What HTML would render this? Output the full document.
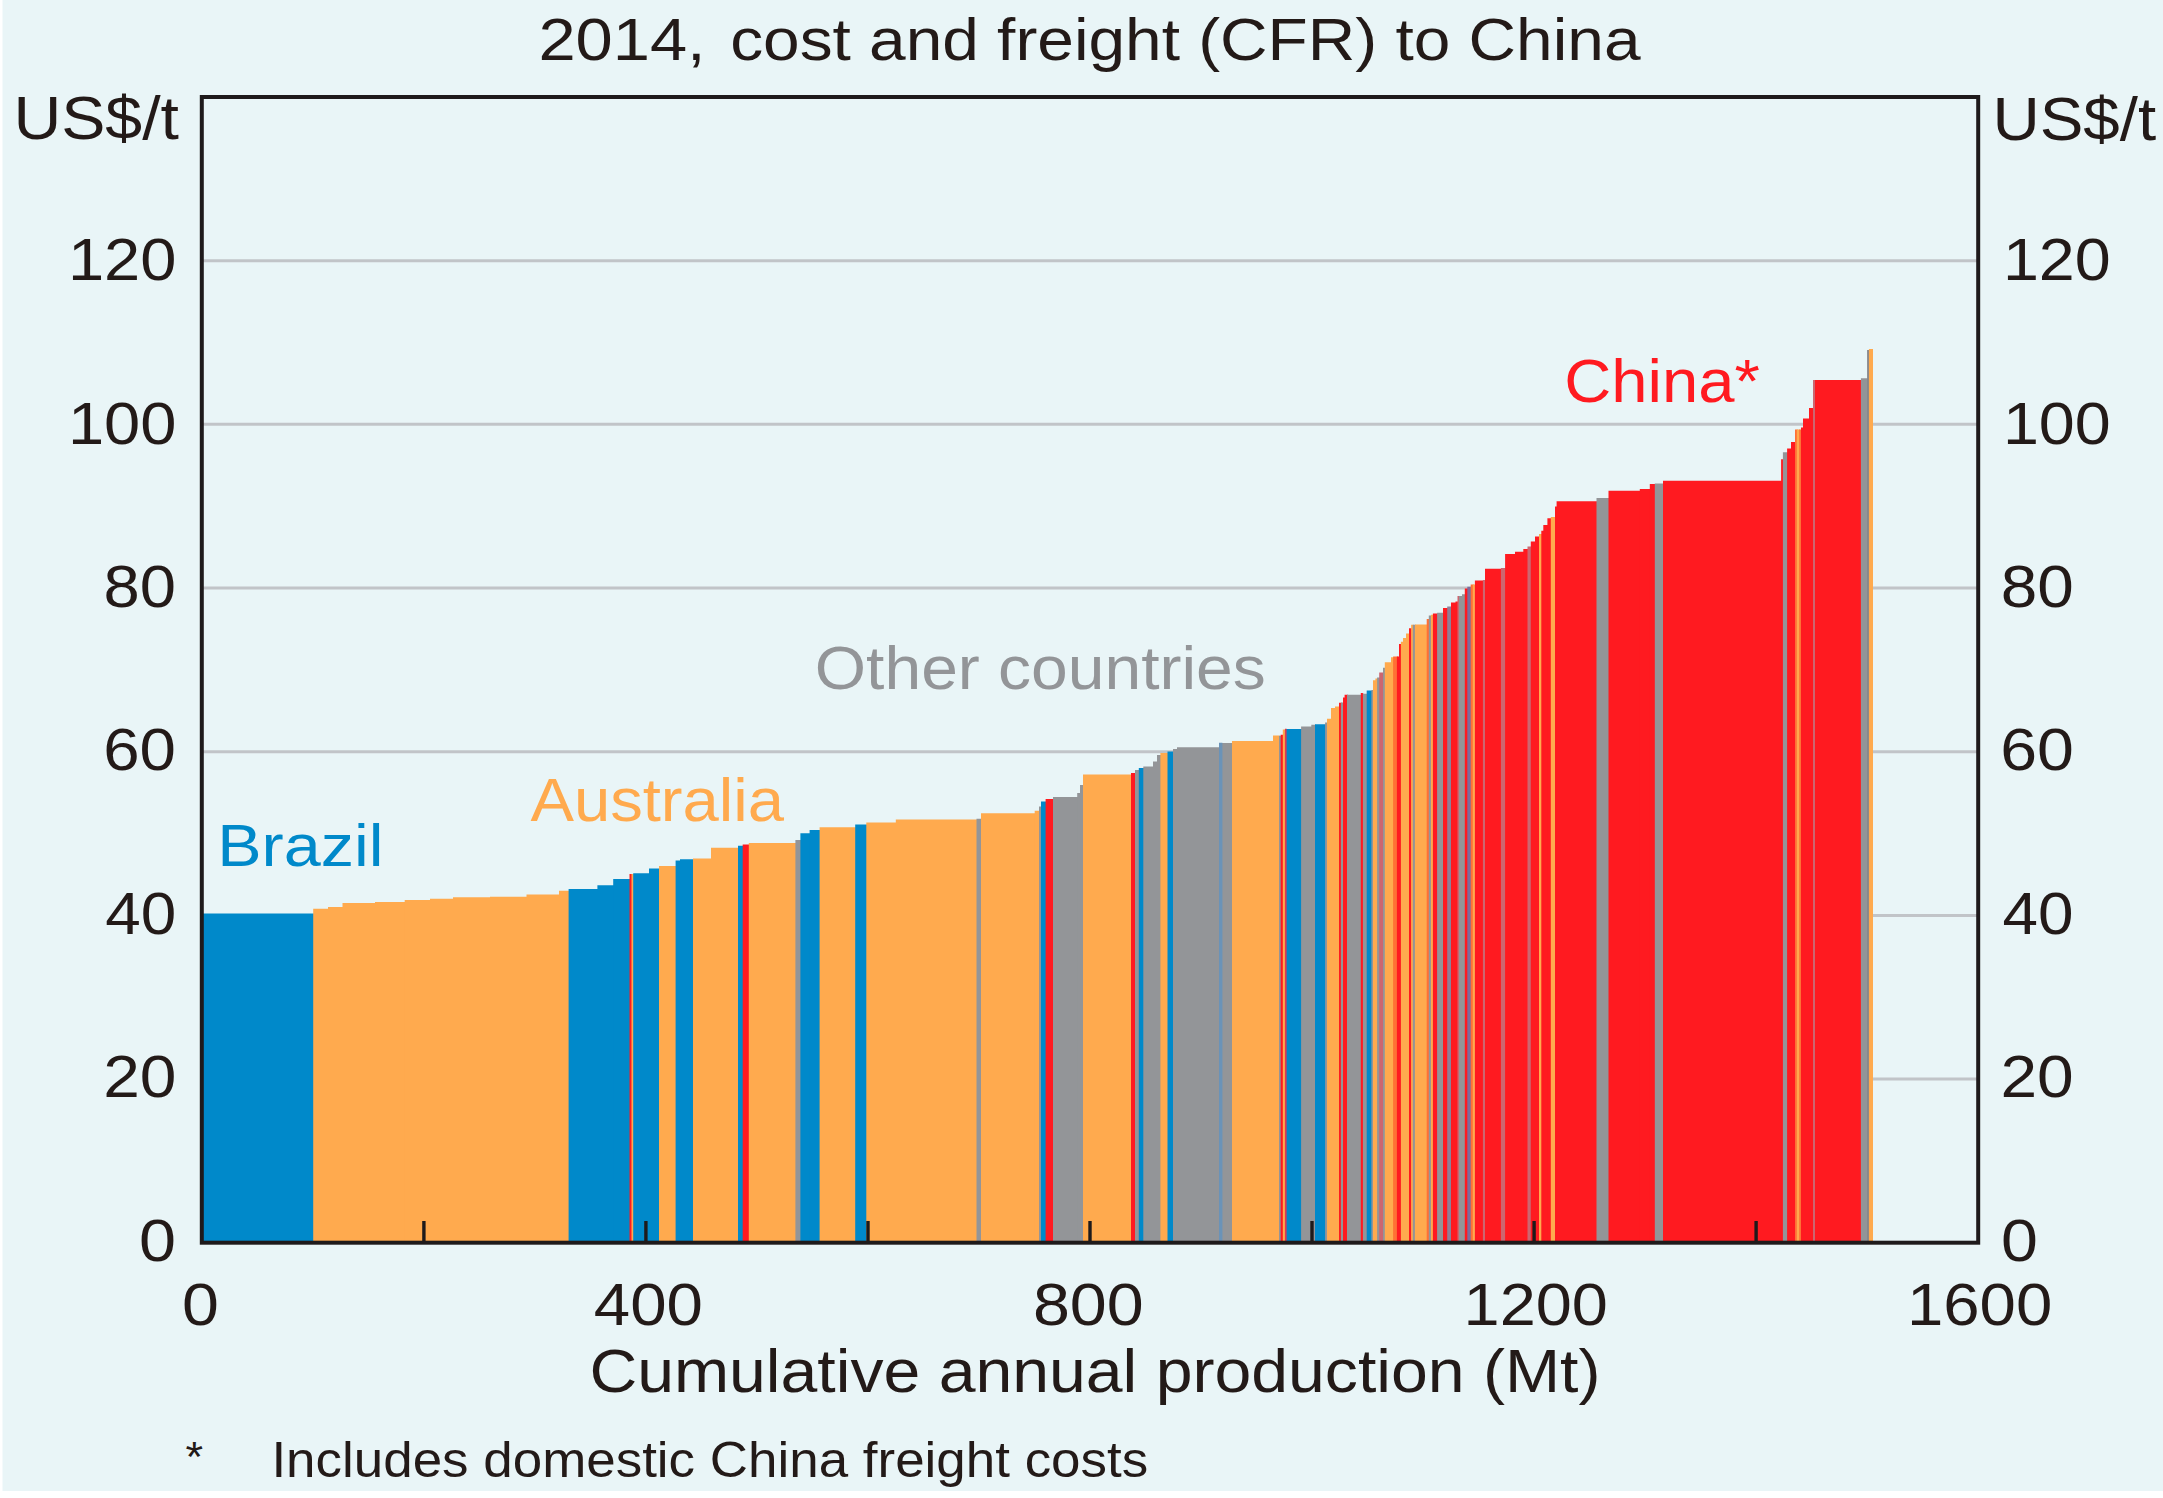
<!DOCTYPE html>
<html lang="en"><head><meta charset="utf-8"><title>Iron ore cost curve</title>
<style>
html,body{margin:0;padding:0;background:#fff}
body{width:2163px;height:1498px;overflow:hidden}
svg{display:block}
text{font-family:"Liberation Sans",Arial,Helvetica,sans-serif}
</style></head><body>
<svg width="2163" height="1498" viewBox="0 0 2163 1498">
<rect x="0" y="0" width="2163" height="1498" fill="#fff"/>
<rect x="2.5" y="0" width="2161" height="1491" fill="#E9F5F7"/>
<g stroke="#C1C4C8" stroke-width="3">
<line x1="201.8" x2="1978.2" y1="1079.0" y2="1079.0"/>
<line x1="201.8" x2="1978.2" y1="915.4" y2="915.4"/>
<line x1="201.8" x2="1978.2" y1="751.7" y2="751.7"/>
<line x1="201.8" x2="1978.2" y1="588.0" y2="588.0"/>
<line x1="201.8" x2="1978.2" y1="424.3" y2="424.3"/>
<line x1="201.8" x2="1978.2" y1="260.7" y2="260.7"/>
</g>
<g>
<path fill="#0089CA" d="M202 913.5H313.2V913.5h1V1242.6H202z"/>
<path fill="#FFAA4E" d="M313.2 908.7H328V908.7h1V1242.6H313.2z"/>
<path fill="#FFAA4E" d="M328 907H342.5V907h1V1242.6H328z"/>
<path fill="#FFAA4E" d="M342.5 903H375V903h1V1242.6H342.5z"/>
<path fill="#FFAA4E" d="M375 902H404.7V902h1V1242.6H375z"/>
<path fill="#FFAA4E" d="M404.7 900H430V900h1V1242.6H404.7z"/>
<path fill="#FFAA4E" d="M430 898.7H453V898.7h1V1242.6H430z"/>
<path fill="#FFAA4E" d="M453 897.3H490V897.3h1V1242.6H453z"/>
<path fill="#FFAA4E" d="M490 896.7H526.5V896.7h1V1242.6H490z"/>
<path fill="#FFAA4E" d="M526.5 894.5H559V894.5h1V1242.6H526.5z"/>
<path fill="#FFAA4E" d="M559 890.7H568.6V890.7h1V1242.6H559z"/>
<path fill="#0089CA" d="M568.6 889H597.4V889h1V1242.6H568.6z"/>
<path fill="#0089CA" d="M597.4 885.2H613.2V885.2h1V1242.6H597.4z"/>
<path fill="#0089CA" d="M613.2 879H629.5V879h1V1242.6H613.2z"/>
<path fill="#FF1A20" d="M629.5 874H631.5V874h1V1242.6H629.5z"/>
<path fill="#FFAA4E" d="M631.5 874H633.2V874h1V1242.6H631.5z"/>
<path fill="#0089CA" d="M633.2 873.2H649V873.2h1V1242.6H633.2z"/>
<path fill="#0089CA" d="M649 868.6H659V868.6h1V1242.6H649z"/>
<path fill="#FFAA4E" d="M659 866H675.6V866h1V1242.6H659z"/>
<path fill="#0089CA" d="M675.6 860.5H680V860.5h1V1242.6H675.6z"/>
<path fill="#0089CA" d="M680 859.3H693V859.3h1V1242.6H680z"/>
<path fill="#FFAA4E" d="M693 858.6H711V858.6h1V1242.6H693z"/>
<path fill="#FFAA4E" d="M711 847.8H738V847.8h1V1242.6H711z"/>
<path fill="#0089CA" d="M738 845.8H742.7V845.8h1V1242.6H738z"/>
<path fill="#FF1A20" d="M742.7 844.6H748.8V844.6h1V1242.6H742.7z"/>
<path fill="#FFAA4E" d="M748.8 843H795.4V843h1V1242.6H748.8z"/>
<path fill="#939598" d="M795.4 840H800.4V840h1V1242.6H795.4z"/>
<path fill="#0089CA" d="M800.4 833.3H809.6V833.3h1V1242.6H800.4z"/>
<path fill="#0089CA" d="M809.6 830H819.6V830h1V1242.6H809.6z"/>
<path fill="#FFAA4E" d="M819.6 827.2H855.2V827.2h1V1242.6H819.6z"/>
<path fill="#0089CA" d="M855.2 824.5H866.3V824.5h1V1242.6H855.2z"/>
<path fill="#FFAA4E" d="M866.3 822.4H895.8V822.4h1V1242.6H866.3z"/>
<path fill="#FFAA4E" d="M895.8 819.5H976.5V819.5h1V1242.6H895.8z"/>
<path fill="#939598" d="M976.5 818.7H981V818.7h1V1242.6H976.5z"/>
<path fill="#FFAA4E" d="M981 813.2H1034.7V813.2h1V1242.6H981z"/>
<path fill="#FFAA4E" d="M1034.7 810.7H1039V810.7h1V1242.6H1034.7z"/>
<path fill="#939598" d="M1039 806.5H1041V806.5h1V1242.6H1039z"/>
<path fill="#0089CA" d="M1041 801.6H1045.6V801.6h1V1242.6H1041z"/>
<path fill="#FF1A20" d="M1045.6 799H1053V799h1V1242.6H1045.6z"/>
<path fill="#939598" d="M1053 797H1077.2V797h1V1242.6H1053z"/>
<path fill="#939598" d="M1077.2 793H1080V793h1V1242.6H1077.2z"/>
<path fill="#939598" d="M1080 785H1083V785h1V1242.6H1080z"/>
<path fill="#FFAA4E" d="M1083 774.6H1131V774.6h1V1242.6H1083z"/>
<path fill="#FF1A20" d="M1131 773H1135V773h1V1242.6H1131z"/>
<path fill="#939598" d="M1135 770H1138.8V770h1V1242.6H1135z"/>
<path fill="#0089CA" d="M1138.8 768H1143.3V768h1V1242.6H1138.8z"/>
<path fill="#939598" d="M1143.3 766.6H1153V766.6h1V1242.6H1143.3z"/>
<path fill="#939598" d="M1153 761.6H1157V761.6h1V1242.6H1153z"/>
<path fill="#939598" d="M1157 755H1160.4V755h1V1242.6H1157z"/>
<path fill="#FFAA4E" d="M1160.4 752.9H1167.5V752.9h1V1242.6H1160.4z"/>
<path fill="#0089CA" d="M1167.5 751.5H1173V751.5h1V1242.6H1167.5z"/>
<path fill="#939598" d="M1173 749H1177V749h1V1242.6H1173z"/>
<path fill="#939598" d="M1177 747.3H1219V747.3h1V1242.6H1177z"/>
<path fill="#6A93B8" d="M1219 742.8H1222.4V743h1V1242.6H1219z"/>
<path fill="#939598" d="M1222.4 743H1232V743h1V1242.6H1222.4z"/>
<path fill="#FFAA4E" d="M1232 741H1273V741h1V1242.6H1232z"/>
<path fill="#FFAA4E" d="M1273 735.4H1279V735.7h1V1242.6H1273z"/>
<path fill="#939598" d="M1279 735.7H1280.7V735.7h1V1242.6H1279z"/>
<path fill="#FF1A20" d="M1280.7 734.7H1282.8V734.7h1V1242.6H1280.7z"/>
<path fill="#FFAA4E" d="M1282.8 729.5H1284.9V729.5h1V1242.6H1282.8z"/>
<path fill="#DD3A52" d="M1284.9 728.8H1286.6V729.1h1V1242.6H1284.9z"/>
<path fill="#0089CA" d="M1286.6 729.1H1301.1V729.1h1V1242.6H1286.6z"/>
<path fill="#939598" d="M1301.1 726.5H1311.3V726.5h1V1242.6H1301.1z"/>
<path fill="#939598" d="M1311.3 724.7H1315V724.7h1V1242.6H1311.3z"/>
<path fill="#0089CA" d="M1315 724.3H1325.1V724.3h1V1242.6H1315z"/>
<path fill="#939598" d="M1325.1 722.5H1327V722.5h1V1242.6H1325.1z"/>
<path fill="#FFAA4E" d="M1327 718.7H1331V718.7h1V1242.6H1327z"/>
<path fill="#FFAA4E" d="M1331 708H1335V708h1V1242.6H1331z"/>
<path fill="#FFAA4E" d="M1335 706.6H1339V706.6h1V1242.6H1335z"/>
<path fill="#FF1A20" d="M1339 702.8H1340.9V702.8h1V1242.6H1339z"/>
<path fill="#939598" d="M1340.9 702.4H1343V702.4h1V1242.6H1340.9z"/>
<path fill="#FF1A20" d="M1343 697.5H1344.6V697.5h1V1242.6H1343z"/>
<path fill="#FF1A20" d="M1344.6 694.8H1347V694.8h1V1242.6H1344.6z"/>
<path fill="#939598" d="M1347 694.8H1360.8V694.8h1V1242.6H1347z"/>
<path fill="#FF1A20" d="M1360.8 693H1362.9V693.7h1V1242.6H1360.8z"/>
<path fill="#939598" d="M1362.9 693.7H1366.7V693.7h1V1242.6H1362.9z"/>
<path fill="#0089CA" d="M1366.7 690.6H1371.4V690.6h1V1242.6H1366.7z"/>
<path fill="#939598" d="M1371.4 690H1373V690h1V1242.6H1371.4z"/>
<path fill="#FFAA4E" d="M1373 680.2H1375.4V680.2h1V1242.6H1373z"/>
<path fill="#FFAA4E" d="M1375.4 678.5H1377.1V678.5h1V1242.6H1375.4z"/>
<path fill="#939598" d="M1377.1 677.4H1379.2V677.4h1V1242.6H1377.1z"/>
<path fill="#CC6670" d="M1379.2 672.6H1383V672.6h1V1242.6H1379.2z"/>
<path fill="#939598" d="M1383 667.7H1384.8V667.7h1V1242.6H1383z"/>
<path fill="#FFAA4E" d="M1384.8 662.2H1391V662.2h1V1242.6H1384.8z"/>
<path fill="#FFAA4E" d="M1391 657.3H1393.1V657.3h1V1242.6H1391z"/>
<path fill="#FF7035" d="M1393.1 656.6H1396.9V656.6h1V1242.6H1393.1z"/>
<path fill="#FF1A20" d="M1396.9 656.6H1399V656.6h1V1242.6H1396.9z"/>
<path fill="#FF1A20" d="M1399 644H1400.9V644h1V1242.6H1399z"/>
<path fill="#FFAA4E" d="M1400.9 641.8H1403V641.8h1V1242.6H1400.9z"/>
<path fill="#FFAA4E" d="M1403 638H1406V638h1V1242.6H1403z"/>
<path fill="#FFAA4E" d="M1406 633.5H1409V633.5h1V1242.6H1406z"/>
<path fill="#FF1A20" d="M1409 628.3H1411.1V628.3h1V1242.6H1409z"/>
<path fill="#FFAA4E" d="M1411.1 624.8H1412.8V624.8h1V1242.6H1411.1z"/>
<path fill="#939598" d="M1412.8 624.8H1414.9V624.8h1V1242.6H1412.8z"/>
<path fill="#FFAA4E" d="M1414.9 624.5H1426.7V624.5h1V1242.6H1414.9z"/>
<path fill="#FF7035" d="M1426.7 619H1428.8V619h1V1242.6H1426.7z"/>
<path fill="#939598" d="M1428.8 615.5H1430.9V615.5h1V1242.6H1428.8z"/>
<path fill="#FFAA4E" d="M1430.9 614.8H1432.9V614.8h1V1242.6H1430.9z"/>
<path fill="#FF1A20" d="M1432.9 613.4H1437.1V613.4h1V1242.6H1432.9z"/>
<path fill="#939598" d="M1437.1 612.7H1443V612.7h1V1242.6H1437.1z"/>
<path fill="#FF1A20" d="M1443 607.9H1447.2V607.9h1V1242.6H1443z"/>
<path fill="#8F7F96" d="M1447.2 606.5H1451V606.5h1V1242.6H1447.2z"/>
<path fill="#FF1A20" d="M1451 602.6H1455.5V602.6h1V1242.6H1451z"/>
<path fill="#FF1A20" d="M1455.5 601.5H1457.5V601.5h1V1242.6H1455.5z"/>
<path fill="#CC6670" d="M1457.5 596H1459V596h1V1242.6H1457.5z"/>
<path fill="#939598" d="M1459 596H1462V596h1V1242.6H1459z"/>
<path fill="#939598" d="M1462 594.3H1464.8V594.3h1V1242.6H1462z"/>
<path fill="#FF1A20" d="M1464.8 588.4H1467.3V588.4h1V1242.6H1464.8z"/>
<path fill="#7D6C9C" d="M1467.3 586.7H1470.7V586.7h1V1242.6H1467.3z"/>
<path fill="#FF7035" d="M1470.7 584.6H1472.8V584.6h1V1242.6H1470.7z"/>
<path fill="#FFAA4E" d="M1472.8 584.6H1474.9V584.6h1V1242.6H1472.8z"/>
<path fill="#FF1A20" d="M1474.9 580.5H1482.9V580.5h1V1242.6H1474.9z"/>
<path fill="#CC6670" d="M1482.9 580H1485V580h1V1242.6H1482.9z"/>
<path fill="#FF1A20" d="M1485 568.7H1500.9V568.7h1V1242.6H1485z"/>
<path fill="#CC6670" d="M1500.9 568H1505.1V568h1V1242.6H1500.9z"/>
<path fill="#FF1A20" d="M1505.1 554H1515V554h1V1242.6H1505.1z"/>
<path fill="#FF1A20" d="M1515 551.8H1523.3V551.8h1V1242.6H1515z"/>
<path fill="#FF1A20" d="M1523.3 549H1527.5V549h1V1242.6H1523.3z"/>
<path fill="#CC6670" d="M1527.5 546.5H1530.8V546.5h1V1242.6H1527.5z"/>
<path fill="#FF1A20" d="M1530.8 541.5H1535V541.5h1V1242.6H1530.8z"/>
<path fill="#FF1A20" d="M1535 536.5H1539V536.5h1V1242.6H1535z"/>
<path fill="#FFAA4E" d="M1539 534H1541.3V534h1V1242.6H1539z"/>
<path fill="#FF1A20" d="M1541.3 530.7H1543.3V530.7h1V1242.6H1541.3z"/>
<path fill="#FF1A20" d="M1543.3 524.9H1547.4V524.9h1V1242.6H1543.3z"/>
<path fill="#FF1A20" d="M1547.4 518.2H1550.8V518.2h1V1242.6H1547.4z"/>
<path fill="#FFAA4E" d="M1550.8 516.9H1555V516.9h1V1242.6H1550.8z"/>
<path fill="#FF1A20" d="M1555 506.6H1556.6V506.6h1V1242.6H1555z"/>
<path fill="#FF1A20" d="M1556.6 501.3H1596.5V501.3h1V1242.6H1556.6z"/>
<path fill="#939598" d="M1596.5 497.9H1608.5V497.9h1V1242.6H1596.5z"/>
<path fill="#FF1A20" d="M1608.5 490.8H1639.8V490.8h1V1242.6H1608.5z"/>
<path fill="#FF1A20" d="M1639.8 489.1H1649.8V489.1h1V1242.6H1639.8z"/>
<path fill="#FF1A20" d="M1649.8 484.1H1654.8V484.1h1V1242.6H1649.8z"/>
<path fill="#939598" d="M1654.8 483.6H1663V483.6h1V1242.6H1654.8z"/>
<path fill="#FF1A20" d="M1663 480.8H1781.1V480.8h1V1242.6H1663z"/>
<path fill="#FF1A20" d="M1781.1 459.2H1782.9V459.2h1V1242.6H1781.1z"/>
<path fill="#939598" d="M1782.9 452.3H1787.1V452.3h1V1242.6H1782.9z"/>
<path fill="#FF1A20" d="M1787.1 448.6H1791V448.6h1V1242.6H1787.1z"/>
<path fill="#FF1A20" d="M1791 442H1795V442h1V1242.6H1791z"/>
<path fill="#FF7035" d="M1795 429.4H1796.8V429.4h1V1242.6H1795z"/>
<path fill="#FFAA4E" d="M1796.8 429.4H1799.2V429.4h1V1242.6H1796.8z"/>
<path fill="#FF7035" d="M1799.2 429.4H1801V429.4h1V1242.6H1799.2z"/>
<path fill="#FF1A20" d="M1801 427.6H1803V427.6h1V1242.6H1801z"/>
<path fill="#FF1A20" d="M1803 418.6H1809V418.6h1V1242.6H1803z"/>
<path fill="#FF1A20" d="M1809 408.1H1813V408.1h1V1242.6H1809z"/>
<path fill="#CC6670" d="M1813 380H1815V380h1V1242.6H1813z"/>
<path fill="#FF1A20" d="M1815 380H1860.9V380h1V1242.6H1815z"/>
<path fill="#939598" d="M1860.9 378.2H1867.1V378.2h1V1242.6H1860.9z"/>
<path fill="#85878C" d="M1867.1 350.1H1868.9V350.1h1V1242.6H1867.1z"/>
<path fill="#FFAA4E" d="M1868.9 349H1873V1242.6H1868.9z"/>
</g>
<g>
<g stroke="#1E1A1B" stroke-width="3.4">
<line x1="423.9" x2="423.9" y1="1221" y2="1242"/>
<line x1="645.9" x2="645.9" y1="1221" y2="1242"/>
<line x1="868.0" x2="868.0" y1="1221" y2="1242"/>
<line x1="1090.0" x2="1090.0" y1="1221" y2="1242"/>
<line x1="1312.0" x2="1312.0" y1="1221" y2="1242"/>
<line x1="1534.1" x2="1534.1" y1="1221" y2="1242"/>
<line x1="1756.1" x2="1756.1" y1="1221" y2="1242"/>
</g>
<rect x="201.8" y="97" width="1776.4" height="1145.7" fill="none" stroke="#1E1A1B" stroke-width="4"/>
<g stroke="none">
<text x="538.4" y="60.2" font-size="60" textLength="167.3" lengthAdjust="spacingAndGlyphs" fill="#231A18">2014,</text>
<text x="730.2" y="60.2" font-size="60" textLength="910.3" lengthAdjust="spacingAndGlyphs" fill="#231A18">cost and freight (CFR) to China</text>
<text x="13.4" y="139" font-size="60.5" textLength="165.6" lengthAdjust="spacingAndGlyphs" fill="#231A18">US$/t</text>
<text x="1992.4" y="139.6" font-size="60.5" textLength="163.7" lengthAdjust="spacingAndGlyphs" fill="#231A18">US$/t</text>
<text x="182" y="1325.3" font-size="60" textLength="36.9" lengthAdjust="spacingAndGlyphs" fill="#231A18">0</text>
<text x="593.8" y="1325.3" font-size="60" textLength="109.1" lengthAdjust="spacingAndGlyphs" fill="#231A18">400</text>
<text x="1032.9" y="1325.3" font-size="60" textLength="110.8" lengthAdjust="spacingAndGlyphs" fill="#231A18">800</text>
<text x="1463.6" y="1325.3" font-size="60" textLength="144.3" lengthAdjust="spacingAndGlyphs" fill="#231A18">1200</text>
<text x="1906.9" y="1325.3" font-size="60" textLength="145.4" lengthAdjust="spacingAndGlyphs" fill="#231A18">1600</text>
<text x="589.4" y="1392.2" font-size="60.5" textLength="1011.1" lengthAdjust="spacingAndGlyphs" fill="#231A18">Cumulative annual production (Mt)</text>
<text x="185.6" y="1471.2" font-size="42" textLength="17.6" lengthAdjust="spacingAndGlyphs" fill="#231A18">*</text>
<text x="271.4" y="1477.2" font-size="50.5" textLength="876.8" lengthAdjust="spacingAndGlyphs" fill="#231A18">Includes domestic China freight costs</text>
<text x="217.2" y="865.6" font-size="59" textLength="166.3" lengthAdjust="spacingAndGlyphs" fill="#0089CA">Brazil</text>
<text x="530.4" y="820.5" font-size="60.5" textLength="253.7" lengthAdjust="spacingAndGlyphs" fill="#FFAA4E">Australia</text>
<text x="814.8" y="689" font-size="60.5" textLength="451" lengthAdjust="spacingAndGlyphs" fill="#939598">Other countries</text>
<text x="1564.2" y="401.6" font-size="61" textLength="195.6" lengthAdjust="spacingAndGlyphs" fill="#FF1A20">China*</text>
<text x="139.1" y="1260.7" font-size="60" textLength="37" lengthAdjust="spacingAndGlyphs" fill="#231A18">0</text>
<text x="2001.1" y="1260.7" font-size="60" textLength="36.9" lengthAdjust="spacingAndGlyphs" fill="#231A18">0</text>
<text x="103.2" y="1097.2" font-size="60" textLength="73.3" lengthAdjust="spacingAndGlyphs" fill="#231A18">20</text>
<text x="2000.4" y="1097.2" font-size="60" textLength="73.3" lengthAdjust="spacingAndGlyphs" fill="#231A18">20</text>
<text x="105.3" y="933.8" font-size="60" textLength="71" lengthAdjust="spacingAndGlyphs" fill="#231A18">40</text>
<text x="2002.6" y="933.8" font-size="60" textLength="71" lengthAdjust="spacingAndGlyphs" fill="#231A18">40</text>
<text x="103.2" y="770.4" font-size="60" textLength="72.8" lengthAdjust="spacingAndGlyphs" fill="#231A18">60</text>
<text x="2000.2" y="770.4" font-size="60" textLength="73.7" lengthAdjust="spacingAndGlyphs" fill="#231A18">60</text>
<text x="103.4" y="606.9" font-size="60" textLength="72.5" lengthAdjust="spacingAndGlyphs" fill="#231A18">80</text>
<text x="2000.7" y="606.9" font-size="60" textLength="73.1" lengthAdjust="spacingAndGlyphs" fill="#231A18">80</text>
<text x="67.9" y="443.5" font-size="60" textLength="108.5" lengthAdjust="spacingAndGlyphs" fill="#231A18">100</text>
<text x="2002.9" y="443.5" font-size="60" textLength="107.8" lengthAdjust="spacingAndGlyphs" fill="#231A18">100</text>
<text x="67.9" y="280" font-size="60" textLength="108.5" lengthAdjust="spacingAndGlyphs" fill="#231A18">120</text>
<text x="2002.9" y="280" font-size="60" textLength="107.8" lengthAdjust="spacingAndGlyphs" fill="#231A18">120</text>
</g>
</g>
</svg>
</body></html>
